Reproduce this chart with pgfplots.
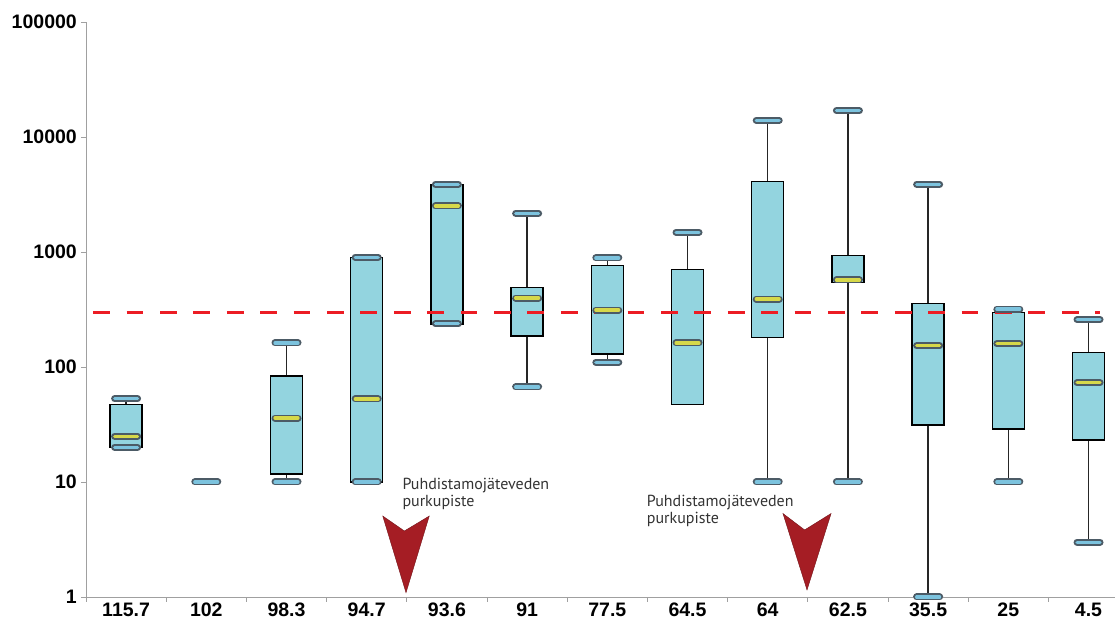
\documentclass[border=0pt]{standalone}
\usepackage{fontspec}
\setmainfont{Liberation Sans}
\newfontfamily\notefont{PT Sans}
\usepackage{pgfplots}
\pgfplotsset{compat=1.18}

\definecolor{boxfill}{HTML}{93D4DF}
\definecolor{capfill}{HTML}{7CC3DE}
\definecolor{capedge}{HTML}{4C5B66}
\definecolor{medfill}{HTML}{D6D84A}
\definecolor{arrowred}{HTML}{A51D24}
\definecolor{limitred}{HTML}{EC1C24}
\definecolor{axisgray}{HTML}{A0A0A0}

\pgfdeclareplotmark{capsule}{%
  \pgfsetroundcap
  \pgfsetlinewidth{7pt}\pgfsetstrokecolor{capedge}%
  \pgfpathmoveto{\pgfqpoint{-11.5pt}{0pt}}\pgfpathlineto{\pgfqpoint{11.5pt}{0pt}}\pgfusepathqstroke
  \pgfsetlinewidth{3.2pt}\pgfsetstrokecolor{capfill}%
  \pgfpathmoveto{\pgfqpoint{-11.5pt}{0pt}}\pgfpathlineto{\pgfqpoint{11.5pt}{0pt}}\pgfusepathqstroke
}
\pgfdeclareplotmark{medcapsule}{%
  \pgfsetroundcap
  \pgfsetlinewidth{7pt}\pgfsetstrokecolor{capedge}%
  \pgfpathmoveto{\pgfqpoint{-11.5pt}{0pt}}\pgfpathlineto{\pgfqpoint{11.5pt}{0pt}}\pgfusepathqstroke
  \pgfsetlinewidth{3.2pt}\pgfsetstrokecolor{medfill}%
  \pgfpathmoveto{\pgfqpoint{-11.5pt}{0pt}}\pgfpathlineto{\pgfqpoint{11.5pt}{0pt}}\pgfusepathqstroke
}

% box: position, lower whisker, q1, q3, upper whisker
\newcommand{\bx}[5]{%
  \pgfmathsetmacro{\xl}{#1-0.2}%
  \pgfmathsetmacro{\xr}{#1+0.2}%
  \addplot[black!85, line width=1.3pt] coordinates {(#1,#2) (#1,#3)};
  \addplot[black!85, line width=1.3pt] coordinates {(#1,#4) (#1,#5)};
  \addplot[draw=black, line width=1.4pt, line join=miter, fill=boxfill] coordinates {(\xl,#3) (\xr,#3) (\xr,#4) (\xl,#4)} -- cycle;
}

\begin{document}
\begin{tikzpicture}
\useasboundingbox (-86pt,-23pt) rectangle (1029pt,597pt);
\begin{axis}[
  at={(0pt,0pt)}, anchor=south west,
  scale only axis, width=1029pt, height=575pt,
  ymode=log, ymin=1, ymax=100000,
  xmin=-0.5, xmax=12.33,
  clip=false,
  axis x line*=bottom, axis y line*=left,
  axis line style={draw=axisgray, line width=0.9pt, -},
  xtick={0,...,12},
  xticklabels={115.7,102,98.3,94.7,93.6,91,77.5,64.5,64,62.5,35.5,25,4.5},
  minor xtick={-0.5,0.5,...,11.5},
  major x tick style={draw=none},
  ytick={1,10,100,1000,10000,100000},
  yticklabels={1,10,100,1000,10000,100000},
  yminorticks=false,
  tick align=outside,
  major tick length=5pt, minor tick length=5pt,
  tick style={draw=axisgray, line width=0.9pt},
  tick label style={font=\fontsize{19.5}{19.5}\selectfont\bfseries, inner sep=0pt},
  xticklabel style={anchor=base, yshift=-14.5pt},
  yticklabel style={anchor=east, xshift=-4pt},
]
% boxes: position, lower whisker, q1, q3, upper whisker
\bx{0}{20}{20}{47}{53}
\bx{2}{10}{11.7}{83.5}{162}
\bx{3}{10}{10}{900}{900}
\bx{4}{237}{237}{3880}{3880}
\bx{5}{67}{186}{493}{2170}
\bx{6}{110}{130}{766}{887}
\bx{7}{47.4}{47.4}{707}{1484}
\bx{8}{10}{180}{4090}{13960}
\bx{9}{10}{541}{929}{16940}
\bx{10}{1}{31.3}{355}{3880}
\bx{11}{10}{28.9}{299}{319}
\bx{12}{3.0}{23.2}{133}{258}
% limit line
\addplot[limitred, line width=3pt, dash pattern=on 16.7pt off 16.7pt] coordinates {(-0.41,300) (12.14,300)};
% whisker caps
\addplot[only marks, mark=capsule] coordinates {
 (0,53) (0,20) (1,10) (2,162) (2,10) (3,900) (3,10) (4,3880) (4,237)
 (5,2170) (5,67) (6,887) (6,110) (7,1484) (8,13960) (8,10) (9,16940) (9,10)
 (10,3880) (10,1) (11,319) (11,10) (12,258) (12,3.0)};
% medians
\addplot[only marks, mark=medcapsule] coordinates {
 (0,25) (2,36) (3,52.7) (4,2512) (5,398) (6,313) (7,162) (8,390) (9,571)
 (10,153) (11,159) (12,73)};
% discharge point markers
\filldraw[fill=arrowred, draw=arrowred!70!black, line width=0.4pt]
  (axis cs:3.20,5.06) -- (axis cs:3.47,3.75) -- (axis cs:3.78,5.06) -- (axis cs:3.49,1.09) -- cycle;
\filldraw[fill=arrowred, draw=arrowred!70!black, line width=0.4pt]
  (axis cs:8.19,5.32) -- (axis cs:8.46,3.83) -- (axis cs:8.79,5.32) -- (axis cs:8.49,1.15) -- cycle;
\node[anchor=base west, inner sep=0pt, text=black!80, font=\notefont\fontsize{16}{16}\selectfont] at (axis cs:3.444,8.52) {Puhdistamojäteveden};
\node[anchor=base west, inner sep=0pt, text=black!80, font=\notefont\fontsize{16}{16}\selectfont] at (axis cs:3.444,6.10) {purkupiste};
\node[anchor=base west, inner sep=0pt, text=black!80, font=\notefont\fontsize{16}{16}\selectfont] at (axis cs:6.491,6.10) {Puhdistamojäteveden};
\node[anchor=base west, inner sep=0pt, text=black!80, font=\notefont\fontsize{16}{16}\selectfont] at (axis cs:6.491,4.38) {purkupiste};
\end{axis}
\end{tikzpicture}
\end{document}
